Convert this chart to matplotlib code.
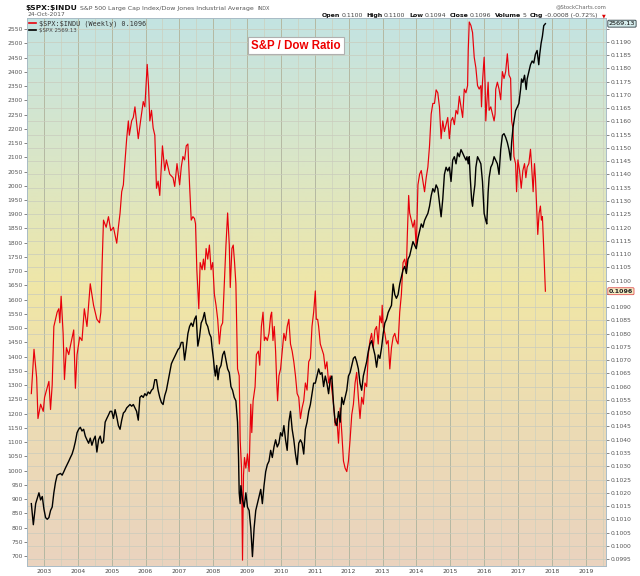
import numpy as np
import matplotlib
matplotlib.use("Agg")
import matplotlib.pyplot as plt
from matplotlib.colors import LinearSegmentedColormap
from matplotlib.lines import Line2D

# weekly-ish samples, x in decimal years
ratio_t = [2002.628, 2002.707, 2002.785, 2002.824, 2002.902, 2002.980, 2003.019, 2003.078, 2003.147, 2003.195,
           2003.244, 2003.293, 2003.391, 2003.440, 2003.469, 2003.508, 2003.567, 2003.606, 2003.665, 2003.733,
           2003.782, 2003.880, 2003.929, 2003.978, 2004.056, 2004.124, 2004.193, 2004.271, 2004.368, 2004.466,
           2004.564, 2004.642, 2004.681, 2004.720, 2004.759, 2004.838, 2004.906, 2004.974, 2005.053, 2005.150,
           2005.199, 2005.248, 2005.297, 2005.346, 2005.366, 2005.444, 2005.493, 2005.522, 2005.590, 2005.639,
           2005.688, 2005.786, 2005.854, 2005.933, 2005.981, 2006.050, 2006.089, 2006.128, 2006.177, 2006.226,
           2006.275, 2006.324, 2006.372, 2006.421, 2006.500, 2006.568, 2006.617, 2006.715, 2006.813, 2006.862,
           2006.930, 2007.008, 2007.056, 2007.105, 2007.154, 2007.203, 2007.252, 2007.301, 2007.350, 2007.399,
           2007.447, 2007.477, 2007.516, 2007.574, 2007.614, 2007.672, 2007.711, 2007.750, 2007.790, 2007.838,
           2007.887, 2007.936, 2007.985, 2008.034, 2008.083, 2008.132, 2008.181, 2008.229, 2008.278, 2008.327,
           2008.376, 2008.425, 2008.474, 2008.503, 2008.552, 2008.591, 2008.630, 2008.669, 2008.718, 2008.767,
           2008.796, 2008.835, 2008.865, 2008.894, 2008.923, 2008.963, 2009.011, 2009.060, 2009.109, 2009.139,
           2009.178, 2009.236, 2009.275, 2009.334, 2009.373, 2009.422, 2009.471, 2009.510, 2009.549, 2009.598,
           2009.647, 2009.696, 2009.725, 2009.764, 2009.803, 2009.842, 2009.872, 2009.901, 2009.940, 2009.989,
           2010.038, 2010.087, 2010.136, 2010.184, 2010.233, 2010.282, 2010.331, 2010.380, 2010.429, 2010.478,
           2010.526, 2010.575, 2010.624, 2010.673, 2010.722, 2010.771, 2010.820, 2010.869, 2010.917, 2010.966,
           2011.015, 2011.045, 2011.084, 2011.113, 2011.162, 2011.211, 2011.260, 2011.309, 2011.358, 2011.407,
           2011.455, 2011.504, 2011.553, 2011.602, 2011.651, 2011.700, 2011.749, 2011.797, 2011.846, 2011.895,
           2011.944, 2011.993, 2012.042, 2012.091, 2012.140, 2012.189, 2012.237, 2012.286, 2012.335, 2012.384,
           2012.433, 2012.482, 2012.531, 2012.580, 2012.629, 2012.677, 2012.726, 2012.775, 2012.824, 2012.873,
           2012.922, 2012.971, 2012.990, 2013.020, 2013.068, 2013.117, 2013.166, 2013.215, 2013.264, 2013.313,
           2013.362, 2013.410, 2013.459, 2013.508, 2013.557, 2013.606, 2013.655, 2013.704, 2013.733, 2013.772,
           2013.801, 2013.850, 2013.899, 2013.948, 2013.997, 2014.046, 2014.095, 2014.144, 2014.192, 2014.241,
           2014.290, 2014.339, 2014.388, 2014.437, 2014.486, 2014.535, 2014.583, 2014.632, 2014.681, 2014.730,
           2014.779, 2014.828, 2014.877, 2014.926, 2014.974, 2015.023, 2015.072, 2015.121, 2015.170, 2015.219,
           2015.268, 2015.317, 2015.366, 2015.414, 2015.463, 2015.512, 2015.532, 2015.561, 2015.610, 2015.659,
           2015.708, 2015.757, 2015.806, 2015.855, 2015.904, 2015.923, 2015.952, 2016.001, 2016.031, 2016.050,
           2016.079, 2016.119, 2016.148, 2016.197, 2016.246, 2016.295, 2016.324, 2016.343, 2016.392, 2016.441,
           2016.490, 2016.539, 2016.588, 2016.637, 2016.686, 2016.734, 2016.783, 2016.813, 2016.852, 2016.881,
           2016.930, 2016.959, 2016.998, 2017.047, 2017.096, 2017.145, 2017.194, 2017.233, 2017.272, 2017.321,
           2017.370, 2017.399, 2017.448, 2017.487, 2017.516, 2017.546, 2017.585, 2017.624, 2017.663, 2017.692,
           2017.722, 2017.761, 2017.810]
ratio_v = [0.10574, 0.10741, 0.10634, 0.10480, 0.10534, 0.10507, 0.10560, 0.10587, 0.10620, 0.10514,
           0.10607, 0.10827, 0.10881, 0.10894, 0.10841, 0.10941, 0.10801, 0.10627, 0.10747, 0.10721,
           0.10754, 0.10814, 0.10594, 0.10721, 0.10787, 0.10774, 0.10894, 0.10827, 0.10988, 0.10907,
           0.10854, 0.10841, 0.10881, 0.11068, 0.11228, 0.11201, 0.11241, 0.11188, 0.11201, 0.11141,
           0.11201, 0.11254, 0.11335, 0.11361, 0.11401, 0.11535, 0.11602, 0.11548, 0.11602, 0.11615,
           0.11655, 0.11535, 0.11602, 0.11675, 0.11655, 0.11815, 0.11735, 0.11602, 0.11642, 0.11575,
           0.11548, 0.11348, 0.11375, 0.11321, 0.11508, 0.11415, 0.11455, 0.11401, 0.11388, 0.11355,
           0.11441, 0.11361, 0.11428, 0.11468, 0.11455, 0.11508, 0.11515, 0.11361, 0.11228, 0.11241,
           0.11234, 0.11214, 0.11041, 0.10894, 0.11068, 0.11041, 0.11081, 0.11041, 0.11121, 0.11081,
           0.11134, 0.11041, 0.11068, 0.10948, 0.10907, 0.10854, 0.10761, 0.10827, 0.10841, 0.10988,
           0.11134, 0.11255, 0.11134, 0.10974, 0.11121, 0.11134, 0.11068, 0.10988, 0.10667, 0.10641,
           0.10400, 0.10293, 0.09946, 0.10267, 0.10333, 0.10293, 0.10347, 0.10280, 0.10534, 0.10427,
           0.10547, 0.10600, 0.10721, 0.10734, 0.10681, 0.10827, 0.10881, 0.10774, 0.10787, 0.10774,
           0.10801, 0.10867, 0.10881, 0.10774, 0.10827, 0.10734, 0.10627, 0.10547, 0.10641, 0.10667,
           0.10734, 0.10801, 0.10774, 0.10827, 0.10854, 0.10761, 0.10734, 0.10694, 0.10641, 0.10574,
           0.10560, 0.10480, 0.10520, 0.10547, 0.10614, 0.10587, 0.10694, 0.10707, 0.10827, 0.10881,
           0.10961, 0.10854, 0.10854, 0.10827, 0.10761, 0.10741, 0.10721, 0.10667, 0.10694, 0.10614,
           0.10641, 0.10587, 0.10534, 0.10454, 0.10480, 0.10387, 0.10520, 0.10427, 0.10320, 0.10293,
           0.10280, 0.10320, 0.10400, 0.10494, 0.10534, 0.10614, 0.10654, 0.10560, 0.10480, 0.10560,
           0.10534, 0.10614, 0.10600, 0.10721, 0.10774, 0.10801, 0.10747, 0.10814, 0.10827, 0.10761,
           0.10867, 0.10841, 0.10907, 0.10827, 0.10801, 0.10761, 0.10774, 0.10667, 0.10747, 0.10787,
           0.10801, 0.10774, 0.10761, 0.10881, 0.10948, 0.11068, 0.11081, 0.11041, 0.11174, 0.11321,
           0.11255, 0.11228, 0.11201, 0.11228, 0.11121, 0.11361, 0.11401, 0.11415, 0.11375, 0.11335,
           0.11388, 0.11428, 0.11508, 0.11628, 0.11668, 0.11668, 0.11719, 0.11708, 0.11655, 0.11535,
           0.11602, 0.11562, 0.11588, 0.11615, 0.11535, 0.11602, 0.11615, 0.11588, 0.11642, 0.11628,
           0.11695, 0.11655, 0.11615, 0.11722, 0.11708, 0.11735, 0.11869, 0.11975, 0.11962, 0.11935,
           0.11842, 0.11802, 0.11735, 0.11722, 0.11735, 0.11655, 0.11748, 0.11842, 0.11735, 0.11602,
           0.11668, 0.11748, 0.11642, 0.11655, 0.11628, 0.11602, 0.11628, 0.11722, 0.11748, 0.11722,
           0.11682, 0.11788, 0.11762, 0.11788, 0.11855, 0.11775, 0.11762, 0.11602, 0.11575, 0.11468,
           0.11441, 0.11335, 0.11455, 0.11415, 0.11348, 0.11415, 0.11441, 0.11388, 0.11428, 0.11441,
           0.11495, 0.11441, 0.11335, 0.11441, 0.11388, 0.11295, 0.11174, 0.11254, 0.11281, 0.11228,
           0.11241, 0.11121, 0.10960]

spx_t = [2002.628, 2002.687, 2002.756, 2002.853, 2002.902, 2002.951, 2003.000, 2003.049, 2003.098, 2003.147,
         2003.196, 2003.244, 2003.293, 2003.342, 2003.391, 2003.489, 2003.538, 2003.587, 2003.635, 2003.684,
         2003.733, 2003.782, 2003.831, 2003.880, 2003.929, 2003.978, 2004.026, 2004.075, 2004.124, 2004.173,
         2004.222, 2004.271, 2004.320, 2004.368, 2004.417, 2004.466, 2004.515, 2004.564, 2004.613, 2004.662,
         2004.710, 2004.759, 2004.808, 2004.857, 2004.906, 2004.955, 2005.004, 2005.053, 2005.102, 2005.150,
         2005.199, 2005.248, 2005.297, 2005.346, 2005.395, 2005.444, 2005.542, 2005.591, 2005.640, 2005.688,
         2005.737, 2005.786, 2005.835, 2005.884, 2005.933, 2005.981, 2006.030, 2006.079, 2006.128, 2006.177,
         2006.226, 2006.275, 2006.324, 2006.372, 2006.421, 2006.470, 2006.519, 2006.568, 2006.617, 2006.666,
         2006.715, 2006.764, 2006.813, 2006.862, 2006.960, 2007.008, 2007.056, 2007.105, 2007.154, 2007.203,
         2007.252, 2007.301, 2007.350, 2007.399, 2007.447, 2007.496, 2007.545, 2007.594, 2007.643, 2007.692,
         2007.741, 2007.790, 2007.838, 2007.887, 2007.936, 2007.966, 2008.005, 2008.034, 2008.063, 2008.102,
         2008.141, 2008.181, 2008.229, 2008.278, 2008.327, 2008.376, 2008.425, 2008.474, 2008.523, 2008.571,
         2008.620, 2008.669, 2008.718, 2008.747, 2008.767, 2008.796, 2008.816, 2008.865, 2008.914, 2008.963,
         2009.011, 2009.060, 2009.109, 2009.158, 2009.207, 2009.256, 2009.305, 2009.354, 2009.403, 2009.451,
         2009.500, 2009.549, 2009.598, 2009.647, 2009.696, 2009.745, 2009.794, 2009.842, 2009.891, 2009.940,
         2009.989, 2010.038, 2010.087, 2010.136, 2010.184, 2010.233, 2010.282, 2010.331, 2010.380, 2010.429,
         2010.478, 2010.526, 2010.575, 2010.624, 2010.673, 2010.722, 2010.771, 2010.820, 2010.869, 2010.917,
         2010.966, 2011.015, 2011.064, 2011.113, 2011.162, 2011.211, 2011.260, 2011.309, 2011.358, 2011.407,
         2011.455, 2011.504, 2011.553, 2011.602, 2011.651, 2011.700, 2011.749, 2011.797, 2011.846, 2011.895,
         2011.944, 2011.993, 2012.042, 2012.091, 2012.140, 2012.189, 2012.237, 2012.286, 2012.335, 2012.384,
         2012.433, 2012.482, 2012.531, 2012.580, 2012.629, 2012.677, 2012.726, 2012.775, 2012.824, 2012.873,
         2012.922, 2012.971, 2013.020, 2013.068, 2013.117, 2013.166, 2013.215, 2013.264, 2013.313, 2013.362,
         2013.410, 2013.459, 2013.508, 2013.557, 2013.606, 2013.655, 2013.704, 2013.752, 2013.801, 2013.850,
         2013.899, 2013.948, 2013.997, 2014.046, 2014.095, 2014.144, 2014.192, 2014.241, 2014.290, 2014.339,
         2014.388, 2014.437, 2014.486, 2014.535, 2014.583, 2014.632, 2014.681, 2014.730, 2014.779, 2014.828,
         2014.877, 2014.926, 2014.974, 2015.023, 2015.072, 2015.121, 2015.170, 2015.219, 2015.268, 2015.317,
         2015.366, 2015.415, 2015.464, 2015.493, 2015.532, 2015.561, 2015.591, 2015.630, 2015.659, 2015.688,
         2015.728, 2015.757, 2015.806, 2015.855, 2015.904, 2015.952, 2016.001, 2016.050, 2016.079, 2016.119,
         2016.148, 2016.197, 2016.246, 2016.295, 2016.343, 2016.392, 2016.441, 2016.490, 2016.539, 2016.588,
         2016.637, 2016.686, 2016.734, 2016.783, 2016.813, 2016.852, 2016.881, 2016.930, 2016.979, 2017.028,
         2017.077, 2017.106, 2017.145, 2017.194, 2017.243, 2017.272, 2017.321, 2017.370, 2017.419, 2017.467,
         2017.516, 2017.565, 2017.614, 2017.643, 2017.683, 2017.722, 2017.761, 2017.810]
spx_v = [884, 810, 884, 922, 897, 909, 865, 835, 829, 835,
         860, 872, 922, 959, 984, 990, 984, 996, 1009, 1021,
         1033, 1046, 1058, 1077, 1102, 1133, 1145, 1152, 1139, 1145,
         1121, 1108, 1096, 1114, 1089, 1108, 1121, 1065, 1108, 1121,
         1096, 1102, 1170, 1183, 1195, 1208, 1208, 1183, 1214, 1189,
         1158, 1145, 1177, 1202, 1208, 1220, 1232, 1226, 1232, 1220,
         1208, 1177, 1257, 1263, 1257, 1270, 1263, 1276, 1270, 1282,
         1288, 1319, 1319, 1282, 1257, 1239, 1232, 1263, 1282, 1313,
         1344, 1375, 1388, 1400, 1425, 1431, 1450, 1450, 1388, 1431,
         1481, 1506, 1518, 1506, 1531, 1543, 1437, 1468, 1518, 1531,
         1555, 1518, 1506, 1481, 1468, 1431, 1394, 1357, 1332, 1369,
         1319, 1357, 1369, 1406, 1419, 1388, 1357, 1344, 1295, 1282,
         1257, 1245, 1170, 1046, 922, 884, 947, 897, 872, 922,
         872, 860, 798, 698, 798, 860, 884, 909, 934, 884,
         947, 996, 1021, 1033, 1071, 1046, 1083, 1108, 1083, 1096,
         1133, 1121, 1158, 1108, 1071, 1170, 1208, 1145, 1108, 1058,
         1021, 1096, 1108, 1096, 1058, 1145, 1170, 1208, 1232, 1270,
         1307, 1307, 1332, 1357, 1338, 1344, 1295, 1332, 1307, 1270,
         1319, 1332, 1232, 1170, 1158, 1207, 1170, 1257, 1232, 1257,
         1282, 1332, 1344, 1369, 1394, 1400, 1382, 1357, 1307, 1282,
         1332, 1357, 1382, 1419, 1444, 1456, 1431, 1406, 1363, 1406,
         1394, 1431, 1481, 1518, 1531, 1555, 1568, 1580, 1655, 1618,
         1605, 1618, 1655, 1680, 1705, 1717, 1692, 1742, 1754, 1779,
         1804, 1791, 1779, 1816, 1841, 1866, 1854, 1878, 1891, 1903,
         1928, 1965, 1990, 1978, 2003, 1990, 1941, 1891, 1953, 2040,
         2065, 2052, 2065, 2015, 2090, 2102, 2077, 2115, 2102, 2127,
         2115, 2102, 2090, 2102, 2077, 2102, 2028, 1953, 1928, 1965,
         2003, 2065, 2102, 2090, 2077, 2015, 1903, 1878, 1866, 1978,
         2028, 2065, 2077, 2102, 2090, 2077, 2040, 2127, 2177, 2183,
         2170, 2152, 2127, 2090, 2152, 2202, 2226, 2264, 2276, 2289,
         2338, 2375, 2363, 2388, 2338, 2375, 2400, 2425, 2438, 2431,
         2462, 2475, 2425, 2462, 2500, 2525, 2562, 2569.13]

years = list(range(2003, 2020))
spx_ticks = list(range(700, 2551, 50))
ratio_ticks = [round(0.0995 + 0.0005 * i, 4) for i in range(41)]

W, H = 640, 576


def fx(px):
    return px / W


def fy(py):
    return 1 - py / H


fig = plt.figure(figsize=(6.4, 5.76), dpi=100)
fig.patch.set_facecolor("white")
ax = fig.add_axes([fx(27), fy(566), fx(606) - fx(27), fy(18) - fy(566)])
ax2 = ax.twinx()

# background gradient, bottom -> top
bg = LinearSegmentedColormap.from_list("bg", ["#ead3bf", "#ecdbb4", "#f0e6a6", "#d9e6c8", "#c3e3e2"])
grad = np.linspace(0, 1, 256).reshape(-1, 1)
ax.imshow(grad, cmap=bg, aspect="auto", extent=(0, 1, 0, 1), transform=ax.transAxes,
          origin="lower", zorder=0, interpolation="bilinear")

ax.plot(ratio_t, ratio_v, color="#e8000b", lw=0.85, zorder=3)
ax2.plot(spx_t, spx_v, color="black", lw=1.0, zorder=3)

ax.set_xlim(2002.63, 2019.6)
ax.set_ylim(0.09924, 0.11990)
ax2.set_ylim(665, 2589)

# grid
ax.set_xticks(years)
ax.set_xticklabels([str(y) for y in years])
ax.set_xticks([y + 0.5 for y in range(2002, 2020)], minor=True)
ax.set_yticks(ratio_ticks)
# labels under the last-value tags are hidden, as on the source chart
ax.set_yticklabels(["" if v in (0.1095, 0.1195) else "%.4f" % v for v in ratio_ticks])
ax.grid(which="major", axis="x", color="#b4b8a2", lw=0.7, zorder=1)
ax.grid(which="minor", axis="x", color="#cdd0bd", lw=0.5, zorder=1)
ax.grid(which="major", axis="y", color="#c9cbbd", lw=0.5, zorder=1)
ax.yaxis.tick_right()
ax2.yaxis.tick_left()
ax2.set_yticks(spx_ticks)
ax2.set_yticklabels([str(v) for v in spx_ticks])

ax.tick_params(axis="x", which="both", length=0, pad=2.5, labelsize=4.3, colors="#444444")
ax.tick_params(axis="y", length=2, pad=1, labelsize=4.3, colors="#555555", width=0.5)
ax2.tick_params(axis="y", length=2, pad=1, labelsize=4.3, colors="#555555", width=0.5)
for a in (ax, ax2):
    for s in a.spines.values():
        s.set_color("#a9bcc6")
        s.set_linewidth(0.6)

# legend
handles = [Line2D([], [], color="#e8000b", lw=1.2), Line2D([], [], color="black", lw=1.2)]
leg = ax.legend(handles, [r"\$SPX:\$INDU (Weekly) 0.1096", r"\$SPX 2569.13"],
                loc="upper left", bbox_to_anchor=(0.0, 1.0), frameon=False, prop={"size": 4.9},
                handlelength=1.0, handletextpad=0.5, labelspacing=0.15, borderpad=0.3,
                borderaxespad=0.0)
leg.get_texts()[0].set_fontfamily("DejaVu Sans Mono")
leg.get_texts()[0].set_color("#333333")
leg.get_texts()[1].set_fontsize(3.9)
leg.get_texts()[1].set_color("#444444")
leg.set_zorder(5)

# title box
ax.text(0.4646, 0.9498, "S&P / Dow Ratio", transform=ax.transAxes, ha="center", va="center",
        fontsize=8.3, fontweight="bold", color="#ee0000", family="Liberation Sans", zorder=6,
        bbox=dict(boxstyle="square,pad=0.25", fc="white", ec="#b0b0b0", lw=0.8))

# last value tags on the right
ax2.annotate("2569.13", xy=(1.0, spx_v[-1]), xycoords=ax2.get_yaxis_transform(),
             xytext=(2, 0), textcoords="offset points", ha="left", va="center",
             fontsize=4.6, color="black", annotation_clip=False, zorder=7,
             bbox=dict(boxstyle="round,pad=0.15", fc="#d5ecec", ec="#2a3a40", lw=0.6))
ax.annotate("0.1096", xy=(1.0, ratio_v[-1]), xycoords=ax.get_yaxis_transform(),
            xytext=(2, 0), textcoords="offset points", ha="left", va="center",
            fontsize=4.6, fontweight="bold", color="#222222", annotation_clip=False, zorder=7,
            bbox=dict(boxstyle="round,pad=0.15", fc="#f3ecc4", ec="#e05050", lw=0.6))

# header
fig.text(fx(25), fy(8), r"\$SPX:\$INDU", fontsize=5.4, fontweight="bold", ha="left", va="center",
         color="#111111")
fig.text(fx(80), fy(8.5), "S&P 500 Large Cap Index/Dow Jones Industrial Average", fontsize=4.5,
         ha="left", va="center", color="#555555")
fig.text(fx(258), fy(8.5), "INDX", fontsize=3.6, ha="left", va="center", color="#555555")
fig.text(fx(27), fy(14.5), "24-Oct-2017", fontsize=4.3, ha="left", va="center", color="#555555")
fig.text(fx(606), fy(6.5), "@StockCharts.com", fontsize=3.9, ha="right", va="center", color="#666666")

parts = [("Open", True), ("0.1100", False), ("High", True), ("0.1100", False), ("Low", True),
         ("0.1094", False), ("Close", True), ("0.1096", False), ("Volume", True), ("5", False),
         ("Chg", True), ("-0.0008 (-0.72%)", False)]
fig.canvas.draw()
r = fig.canvas.get_renderer()
pieces = []
xpos = 0.0
for s, b in parts:
    t = fig.text(0, fy(15.5), s, fontsize=4.5, fontweight="bold" if b else "normal",
                 ha="left", va="center", color="#111111" if b else "#444444")
    w = t.get_window_extent(r).width
    pieces.append((t, xpos))
    xpos += w + (1.5 if b else 3.5)
arrow_w = 5
start = 606 - arrow_w - xpos
for t, off in pieces:
    t.set_x(fx(start + off))
fig.text(fx(606), fy(15.5), "\u25bc", fontsize=3.5, ha="right", va="center", color="#dd0000")

fig.savefig("out.png", dpi=100)
